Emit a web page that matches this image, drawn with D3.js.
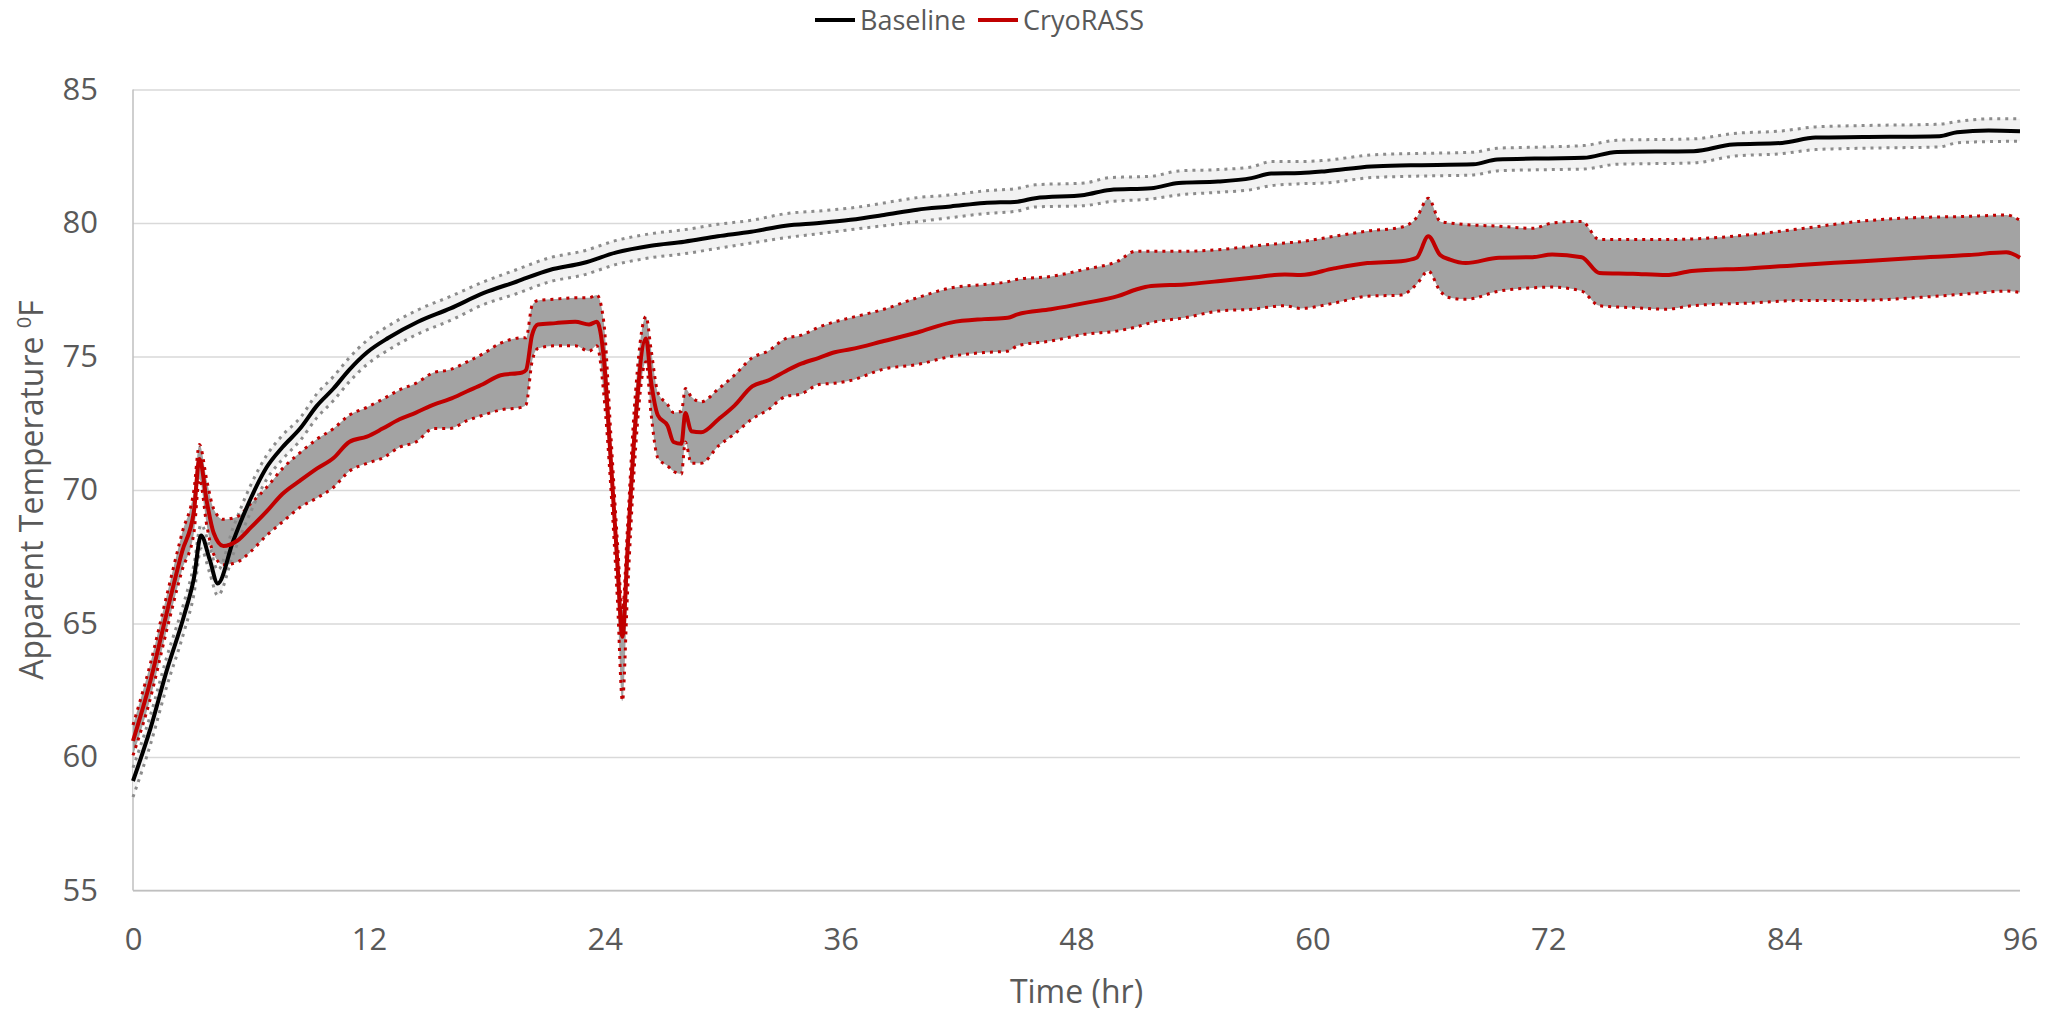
<!DOCTYPE html>
<html>
<head>
<meta charset="utf-8">
<script src="https://cdn.jsdelivr.net/npm/d3@7"></script>
<style>
  body { margin: 0; background: #fff; }
  text { font-family: "Open Sans", sans-serif; fill: #595959; }
</style>
</head>
<body>
<svg></svg>
<script>
var width = 2059, height = 1012;

// axis ticks
var xTicks = [0, 12, 24, 36, 48, 60, 72, 84, 96];
var yTicks = [55, 60, 65, 70, 75, 80, 85];

// Baseline: time (hr), mean and the dotted upper / lower bounds
var baseTime = [0, 0.9, 1.7, 2.6, 3.1, 3.46, 3.9, 4.31, 5.1, 6.0, 6.8, 7.6, 8.5, 9.35, 10.2, 11.0, 11.9,
    13.0, 14.5, 16.15, 17.85, 19.5, 21.2, 22.9, 24.6, 26.35, 28.05, 29.75, 31.45, 33.2, 34.9, 36.5, 38.2,
    39.9, 41.6, 43.3, 45.0, 45.9, 48.4, 49.7, 51.8, 53.2, 55.2, 56.9, 57.9, 59.4, 60.7, 63.0, 65.0, 68.2,
    69.4, 72.0, 73.8, 75.5, 79.4, 81.4, 83.9, 85.6, 88.0, 91.9, 92.8, 94.4, 96.0];
var baseMean = [59.1, 61.1, 63.2, 65.3, 66.7, 68.3, 67.4, 66.5, 68.1, 69.7, 70.85, 71.6, 72.3, 73.15, 73.8, 74.5, 75.15,
    75.7, 76.3, 76.8, 77.38, 77.8, 78.24, 78.5, 78.9, 79.15, 79.3, 79.5, 79.67, 79.9, 80.0, 80.12, 80.3,
    80.5, 80.62, 80.75, 80.8, 80.93, 81.05, 81.24, 81.3, 81.5, 81.55, 81.68, 81.85, 81.87, 81.94, 82.12, 82.16, 82.2,
    82.38, 82.42, 82.44, 82.66, 82.69, 82.94, 83.0, 83.2, 83.22, 83.25, 83.4, 83.46, 83.44];
var baseUpper = [59.6, 61.6, 63.7, 65.8, 67.2, 68.7, 67.9, 67.0, 68.6, 70.2, 71.3, 72.05, 72.7, 73.6, 74.25, 74.95, 75.6,
    76.15, 76.75, 77.25, 77.8, 78.25, 78.7, 78.95, 79.35, 79.6, 79.75, 79.95, 80.1, 80.35, 80.45, 80.56, 80.75,
    80.95, 81.05, 81.2, 81.3, 81.43, 81.5, 81.7, 81.75, 81.95, 82.0, 82.1, 82.3, 82.3, 82.35, 82.55, 82.6, 82.65,
    82.8, 82.85, 82.9, 83.1, 83.15, 83.35, 83.45, 83.6, 83.65, 83.7, 83.8, 83.9, 83.9];
var baseLower = [58.5, 60.5, 62.6, 64.7, 66.1, 67.8, 66.9, 66.05, 67.6, 69.2, 70.4, 71.15, 71.85, 72.7, 73.35, 74.05, 74.7,
    75.25, 75.85, 76.35, 76.95, 77.35, 77.8, 78.05, 78.45, 78.7, 78.85, 79.05, 79.25, 79.45, 79.6, 79.75, 79.9,
    80.05, 80.2, 80.35, 80.45, 80.6, 80.65, 80.8, 80.9, 81.05, 81.15, 81.25, 81.4, 81.47, 81.5, 81.7, 81.75, 81.8,
    81.95, 82.0, 82.02, 82.2, 82.25, 82.5, 82.6, 82.75, 82.8, 82.85, 83.0, 83.05, 83.06];

// CryoRASS
var cryoTime = [0, 0.85, 1.7, 2.5, 3.1, 3.38, 3.77, 4.1, 4.6, 5.3,
    6.0, 6.8, 7.6, 8.5, 9.35, 10.2, 11.0, 11.9, 12.7, 13.56,
    14.4, 15.3, 16.1, 17.0, 17.8, 18.7, 19.8, 20.0, 20.3, 20.6,
    21.5, 22.5, 23.2, 23.6, 23.95, 24.3, 24.65, 24.9, 25.15, 25.5,
    26.1, 26.35, 26.7, 27.2, 27.5, 27.9, 28.1, 28.4, 28.9, 29.8,
    30.6, 31.5, 32.3, 33.2, 34.0, 34.9, 35.7, 36.5, 38.2, 39.9,
    41.6, 43.3, 44.5, 45.0, 46.7, 48.4, 50.1, 51.0, 51.8, 53.5,
    55.2, 56.9, 58.6, 59.4, 61.1, 62.8, 64.5, 65.3, 65.9, 66.5,
    67.0, 67.8, 69.5, 71.2, 72.2, 73.7, 74.6, 76.3, 78.0, 79.3,
    82.2, 85.0, 87.8, 90.6, 93.4, 95.3, 96.0];
var cryoMean = [60.6, 62.75, 65.35, 67.7, 69.2, 71.16, 69.5, 68.4, 67.9, 68.1,
    68.6, 69.2, 69.85, 70.35, 70.8, 71.2, 71.8, 72.0, 72.3, 72.65,
    72.9, 73.2, 73.4, 73.7, 73.96, 74.3, 74.4, 74.5, 75.8, 76.2,
    76.25, 76.3, 76.2, 76.3, 74.95, 71.2, 67.2, 64.5, 67.65, 71.95,
    75.67, 74.1, 72.8, 72.4, 71.8, 71.73, 72.88, 72.2, 72.16, 72.66,
    73.16, 73.88, 74.1, 74.45, 74.73, 74.95, 75.16, 75.27, 75.58, 75.9,
    76.27, 76.4, 76.45, 76.58, 76.77, 77.0, 77.26, 77.5, 77.64, 77.7,
    77.82, 77.95, 78.07, 78.05, 78.3, 78.5, 78.57, 78.7, 79.5, 78.8,
    78.63, 78.5, 78.7, 78.72, 78.82, 78.72, 78.13, 78.1, 78.05, 78.2,
    78.3, 78.44, 78.56, 78.69, 78.8, 78.9, 78.7];
var cryoUpper = [61.2, 63.4, 66.0, 68.4, 70.0, 71.7, 70.3, 69.3, 68.9, 69.0,
    69.5, 70.1, 70.8, 71.4, 71.9, 72.3, 72.8, 73.1, 73.4, 73.75,
    74.0, 74.4, 74.5, 74.8, 75.1, 75.5, 75.7, 75.7, 76.9, 77.1,
    77.15, 77.2, 77.2, 77.3, 76.3, 72.2, 68.0, 65.5, 68.5, 73.0,
    76.5, 75.3, 73.66, 73.2, 72.9, 72.95, 73.8, 73.5, 73.3, 73.8,
    74.3, 74.95, 75.2, 75.67, 75.8, 76.1, 76.3, 76.45, 76.77, 77.2,
    77.57, 77.7, 77.8, 77.89, 78.0, 78.26, 78.57, 78.94, 78.94, 78.94,
    79.0, 79.13, 79.25, 79.3, 79.5, 79.7, 79.84, 80.2, 80.93, 80.06,
    80.0, 79.94, 79.88, 79.8, 80.0, 80.06, 79.38, 79.38, 79.38, 79.4,
    79.56, 79.8, 80.06, 80.2, 80.25, 80.3, 80.1];
var cryoLower = [60.06, 62.1, 64.7, 67.0, 68.4, 70.4, 68.6, 67.6, 67.2, 67.3,
    67.7, 68.3, 68.8, 69.35, 69.7, 70.1, 70.7, 71.0, 71.2, 71.6,
    71.8, 72.3, 72.3, 72.6, 72.8, 73.0, 73.1, 73.2, 74.8, 75.3,
    75.4, 75.4, 75.2, 75.4, 73.6, 70.2, 65.8, 62.1, 66.0, 70.8,
    74.8, 72.9, 71.2, 70.9, 70.7, 70.6, 71.8, 71.0, 71.0, 71.66,
    72.1, 72.66, 73.0, 73.5, 73.6, 73.95, 74.0, 74.1, 74.53, 74.7,
    75.0, 75.15, 75.2, 75.4, 75.58, 75.83, 75.96, 76.1, 76.27, 76.45,
    76.7, 76.77, 76.9, 76.8, 77.0, 77.26, 77.3, 77.7, 78.2, 77.45,
    77.2, 77.14, 77.45, 77.57, 77.6, 77.45, 76.9, 76.83, 76.77, 76.9,
    77.0, 77.1, 77.1, 77.2, 77.35, 77.45, 77.4];

var plotLeft = 133, plotRight = 2020, plotTop = 89.5, plotBottom = 890.5;

var svg = d3.select("svg")
    .attr("width", width)
    .attr("height", height);

var x = d3.scaleLinear().domain([0, 96]).range([plotLeft, plotRight]);
var y = d3.scaleLinear().domain([55, 85]).range([plotBottom, plotTop]);

function rows(t, m, hi, lo) {
    return t.map(function (d, i) {
        return {t: d, m: m[i], hi: hi[i], lo: lo[i]};
    });
}
var base = rows(baseTime, baseMean, baseUpper, baseLower);
var cryo = rows(cryoTime, cryoMean, cryoUpper, cryoLower);

// gridlines + y labels
var yAxis = svg.append("g")
    .attr("transform", "translate(" + plotLeft + ",0)")
    .call(d3.axisLeft(y).tickValues(yTicks).tickSize(-(plotRight - plotLeft)).tickPadding(35));
yAxis.select(".domain").remove();
yAxis.selectAll("line").attr("stroke", "#d9d9d9").attr("stroke-width", 1.5);
yAxis.selectAll("text").attr("font-size", 31).attr("font-family", "Open Sans").attr("fill", "#595959");

var xAxis = svg.append("g")
    .attr("transform", "translate(0," + plotBottom + ")")
    .call(d3.axisBottom(x).tickValues(xTicks).tickSize(0).tickPadding(37));
xAxis.select(".domain").remove();
xAxis.selectAll("text").attr("font-size", 31).attr("font-family", "Open Sans").attr("fill", "#595959");

svg.append("line").attr("x1", plotLeft).attr("x2", plotRight).attr("y1", plotBottom).attr("y2", plotBottom)
    .attr("stroke", "#bfbfbf").attr("stroke-width", 1.5);
svg.append("line").attr("x1", plotLeft).attr("x2", plotLeft).attr("y1", plotTop).attr("y2", plotBottom)
    .attr("stroke", "#bfbfbf").attr("stroke-width", 1.5);

var band = d3.area()
    .x(function (d) { return x(d.t); })
    .y0(function (d) { return y(d.lo); })
    .y1(function (d) { return y(d.hi); })
    .curve(d3.curveMonotoneX);
function line(key) {
    return d3.line()
        .x(function (d) { return x(d.t); })
        .y(function (d) { return y(d[key]); })
        .curve(d3.curveMonotoneX);
}

svg.append("path").datum(base).attr("d", band).attr("fill", "#f2f2f2");
svg.append("path").datum(cryo).attr("d", band).attr("fill", "#a3a3a3");

["hi", "lo"].forEach(function (k) {
    svg.append("path").datum(base).attr("d", line(k))
        .attr("fill", "none").attr("stroke", "#8c8c8c").attr("stroke-width", 3)
        .attr("stroke-dasharray", "3 5");
    svg.append("path").datum(cryo).attr("d", line(k))
        .attr("fill", "none").attr("stroke", "#c00000").attr("stroke-width", 3)
        .attr("stroke-dasharray", "3 5");
});

svg.append("path").datum(base).attr("d", line("m"))
    .attr("fill", "none").attr("stroke", "#000").attr("stroke-width", 4);
svg.append("path").datum(cryo).attr("d", line("m"))
    .attr("fill", "none").attr("stroke", "#c00000").attr("stroke-width", 4);

// legend
var legend = [{name: "Baseline", color: "#000", x: 815}, {name: "CryoRASS", color: "#c00000", x: 978}];
legend.forEach(function (d) {
    svg.append("line").attr("x1", d.x).attr("x2", d.x + 40).attr("y1", 20).attr("y2", 20)
        .attr("stroke", d.color).attr("stroke-width", 4);
    svg.append("text").attr("x", d.x + 45).attr("y", 30).attr("font-size", 27).text(d.name);
});

// axis titles
svg.append("text")
    .attr("x", (plotLeft + plotRight) / 2).attr("y", 1003)
    .attr("text-anchor", "middle").attr("font-size", 32)
    .text("Time (hr)");

var yt = svg.append("text")
    .attr("transform", "translate(43," + (plotTop + plotBottom) / 2 + ") rotate(-90)")
    .attr("text-anchor", "middle").attr("font-size", 32);
yt.append("tspan").text("Apparent Temperature ");
yt.append("tspan").attr("font-size", 20).attr("dy", -12).text("0");
yt.append("tspan").attr("dy", 12).text("F");
</script>
</body>
</html>
